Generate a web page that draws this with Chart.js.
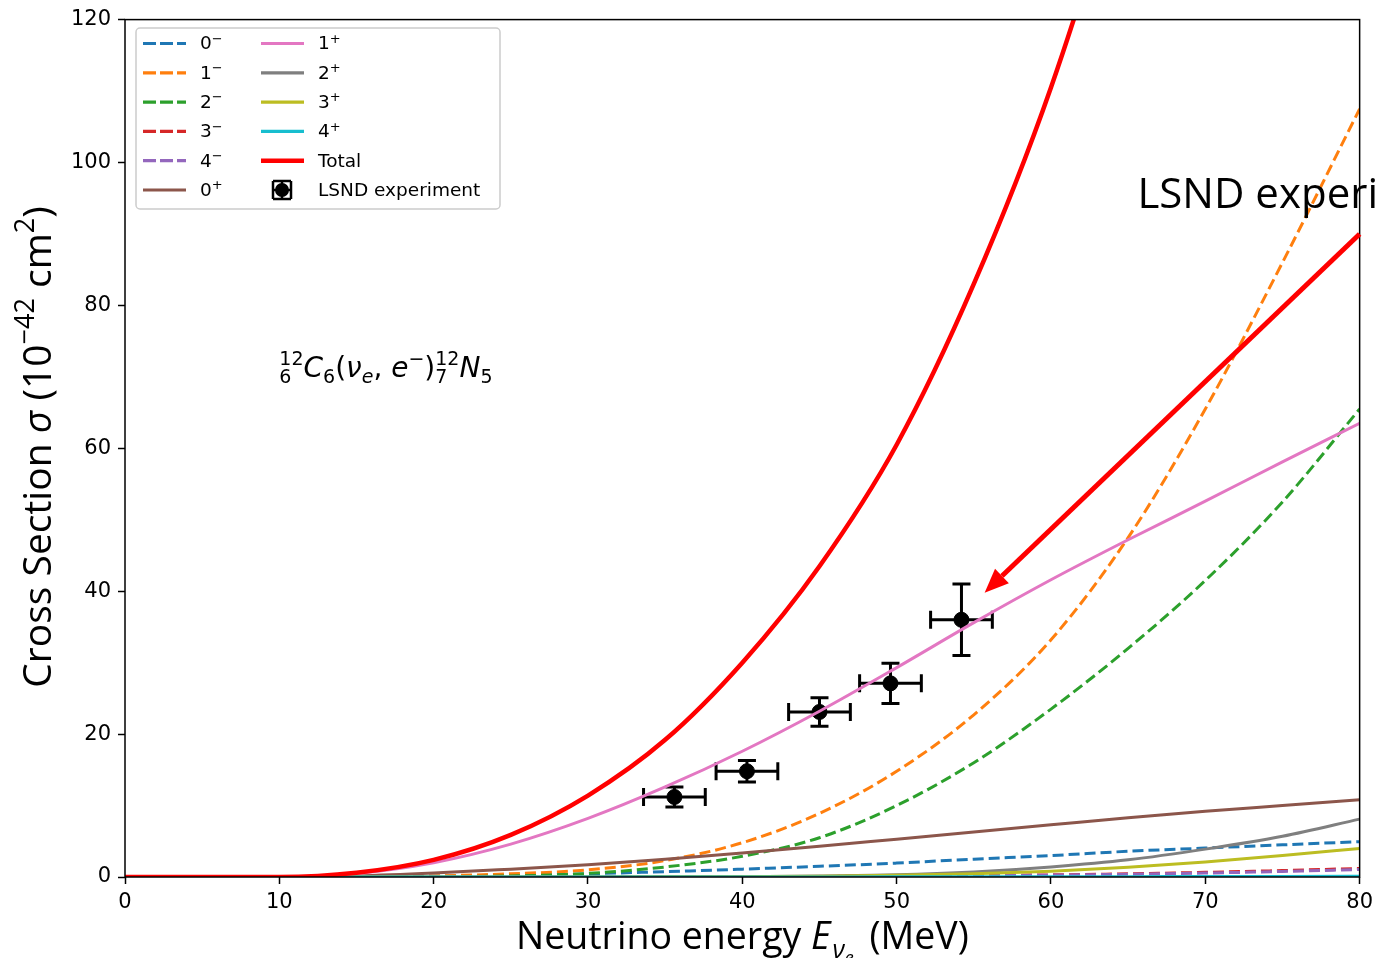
<!DOCTYPE html>
<html>
<head>
<meta charset="utf-8">
<script src="https://cdn.jsdelivr.net/npm/chart.js@4.4.0/dist/chart.umd.min.js"></script>
<style>
  html, body { margin: 0; padding: 0; background: #fff; }
</style>
</head>
<body>
<canvas id="xsec" width="1379" height="958"></canvas>
<script>
// energy grid (MeV) the curves were read on
const energy = [0, 5, 10, 15, 20, 25, 30, 35, 40, 45, 50, 55, 60, 65, 70, 75, 80];
const energyTotal = [0, 5, 10, 15, 20, 25, 30, 35, 40, 45, 50, 55, 60, 65, 70];

// cross sections, 10^-42 cm^2
const sig0m = [0, 0, 0, 0.02, 0.1, 0.2, 0.45, 0.75, 1.1, 1.5, 1.95, 2.5, 3.0, 3.6, 4.05, 4.5, 4.95];
const sig1m = [0, 0, 0, 0, 0.15, 0.45, 1.0, 2.3, 4.8, 8.9, 14.8, 22.7, 33.2, 47.5, 65.5, 86, 107.5];
const sig2m = [0, 0, 0, 0, 0.05, 0.15, 0.5, 1.4, 2.9, 5.5, 10, 16, 23.5, 32, 41.5, 52.5, 65.5];
const sig3m = [0, 0, 0, 0, 0, 0, 0, 0.02, 0.05, 0.08, 0.12, 0.2, 0.3, 0.45, 0.65, 0.9, 1.2];
const sig4m = [0, 0, 0, 0, 0, 0, 0, 0.02, 0.04, 0.07, 0.1, 0.17, 0.26, 0.38, 0.55, 0.78, 1.05];
const sig0p = [0, 0, 0, 0.15, 0.55, 1.1, 1.7, 2.5, 3.35, 4.3, 5.3, 6.3, 7.3, 8.3, 9.2, 10, 10.8];
const sig1p = [0, 0, 0, 0.5, 2, 4.6, 8.2, 12.6, 17.6, 23.2, 29.3, 35.6, 41.6, 47.2, 52.6, 58.1, 63.5];
const sig2p = [0, 0, 0, 0, 0, 0, 0.01, 0.02, 0.05, 0.15, 0.3, 0.7, 1.4, 2.4, 3.9, 5.7, 8.1];
const sig3p = [0, 0, 0, 0, 0, 0, 0.01, 0.02, 0.05, 0.1, 0.25, 0.45, 0.8, 1.35, 2.1, 3.0, 4.0];
const sig4p = [0, 0, 0, 0, 0, 0, 0, 0, 0.01, 0.01, 0.02, 0.03, 0.04, 0.05, 0.07, 0.08, 0.1];
const sigTotal = [0, 0, 0, 0.6, 2.4, 5.9, 11.4, 19.2, 30, 43.5, 60.5, 83, 110.5, 145, 185];

// LSND data points
const lsndE = [35.6, 40.3, 45, 49.6, 54.2];
const lsndSigma = [11.2, 14.8, 23.1, 27.1, 36];
const lsndErrE = [2, 2, 2, 2, 2];
const lsndErrSigma = [1.4, 1.5, 2, 2.8, 5];

// axis ticks
const xTicks = [0, 10, 20, 30, 40, 50, 60, 70, 80];
const yTicks = [0, 20, 40, 60, 80, 100, 120];

// annotation arrow (data coords): tail -> head
const arrowFrom = [80, 90];
const arrowTo = [55.7, 39.8];
const noteAt = [65.6, 93.6];
const formulaAt = [10.0, 70.0];

const LEG_FONT = '18.5px "DejaVu Sans"';

const pts = (xs, ys) => xs.map((x, i) => ({ x: x, y: ys[i] }));

const series = [
  { label: '0', sup: '\u2212', data: sig0m, color: '#1f77b4', dash: true },
  { label: '1', sup: '\u2212', data: sig1m, color: '#ff7f0e', dash: true },
  { label: '2', sup: '\u2212', data: sig2m, color: '#2ca02c', dash: true },
  { label: '3', sup: '\u2212', data: sig3m, color: '#d62728', dash: true },
  { label: '4', sup: '\u2212', data: sig4m, color: '#9467bd', dash: true },
  { label: '0', sup: '+', data: sig0p, color: '#8c564b', dash: false },
  { label: '1', sup: '+', data: sig1p, color: '#e377c2', dash: false },
  { label: '2', sup: '+', data: sig2p, color: '#7f7f7f', dash: false },
  { label: '3', sup: '+', data: sig3p, color: '#bcbd22', dash: false },
  { label: '4', sup: '+', data: sig4p, color: '#17becf', dash: false }
];

const datasets = series.map((s, i) => ({
  label: s.label + s.sup,
  data: pts(energy, s.data),
  borderColor: s.color,
  borderWidth: 3,
  borderDash: s.dash ? [11, 5] : [],
  pointRadius: 0,
  cubicInterpolationMode: 'monotone',
  fill: false,
  order: 30 - i
}));
datasets.push({
  label: 'Total',
  data: pts(energyTotal, sigTotal),
  borderColor: '#ff0000',
  borderWidth: 4.5,
  pointRadius: 0,
  cubicInterpolationMode: 'monotone',
  fill: false,
  order: 5
});
datasets.push({
  type: 'scatter',
  label: 'LSND experiment',
  data: pts(lsndE, lsndSigma),
  backgroundColor: '#000',
  borderColor: '#000',
  pointRadius: 7.5,
  order: 100
});

// draw a run of text pieces, each {t, font, dy}
function textRuns(ctx, runs, x, y, align) {
  let w = 0;
  runs.forEach(r => { ctx.font = r.font; r.w = ctx.measureText(r.t).width + (r.gap || 0); w += r.w; });
  let cx = align === 'center' ? x - w / 2 : x;
  runs.forEach(r => {
    ctx.font = r.font;
    ctx.fillText(r.t, cx, y + (r.dy || 0));
    cx += r.w;
  });
  return w;
}

const decor = {
  id: 'decor',
  beforeDatasetsDraw(chart) {
    const ctx = chart.ctx, xs = chart.scales.x, ys = chart.scales.y;
    ctx.save();
    ctx.strokeStyle = '#000';
    ctx.lineWidth = 3;
    lsndE.forEach((e, i) => {
      const px = xs.getPixelForValue(e), py = ys.getPixelForValue(lsndSigma[i]);
      const x0 = xs.getPixelForValue(e - lsndErrE[i]), x1 = xs.getPixelForValue(e + lsndErrE[i]);
      const y0 = ys.getPixelForValue(lsndSigma[i] - lsndErrSigma[i]);
      const y1 = ys.getPixelForValue(lsndSigma[i] + lsndErrSigma[i]);
      const cap = 9;
      ctx.beginPath();
      ctx.moveTo(x0, py); ctx.lineTo(x1, py);
      ctx.moveTo(px, y0); ctx.lineTo(px, y1);
      ctx.moveTo(x0, py - cap); ctx.lineTo(x0, py + cap);
      ctx.moveTo(x1, py - cap); ctx.lineTo(x1, py + cap);
      ctx.moveTo(px - cap, y0); ctx.lineTo(px + cap, y0);
      ctx.moveTo(px - cap, y1); ctx.lineTo(px + cap, y1);
      ctx.stroke();
    });
    ctx.restore();
  },
  afterDatasetsDraw(chart) {
    const ctx = chart.ctx, a = chart.chartArea, xs = chart.scales.x, ys = chart.scales.y;
    ctx.save();
    // frame
    ctx.strokeStyle = '#000';
    ctx.lineWidth = 1.5;
    ctx.strokeRect(a.left, a.top, a.right - a.left, a.bottom - a.top);

    // arrow
    const tx = xs.getPixelForValue(arrowFrom[0]), ty = ys.getPixelForValue(arrowFrom[1]);
    const hx = xs.getPixelForValue(arrowTo[0]), hy = ys.getPixelForValue(arrowTo[1]);
    const ang = Math.atan2(hy - ty, hx - tx);
    const hl = 24, hw = 10;
    const bx = hx - hl * Math.cos(ang), by = hy - hl * Math.sin(ang);
    ctx.strokeStyle = '#ff0000';
    ctx.fillStyle = '#ff0000';
    ctx.lineWidth = 5;
    ctx.beginPath(); ctx.moveTo(tx, ty); ctx.lineTo(bx, by); ctx.stroke();
    ctx.beginPath();
    ctx.moveTo(hx, hy);
    ctx.lineTo(bx + hw * Math.sin(ang), by - hw * Math.cos(ang));
    ctx.lineTo(bx - hw * Math.sin(ang), by + hw * Math.cos(ang));
    ctx.closePath(); ctx.fill();

    // LSND note
    ctx.fillStyle = '#000';
    ctx.textBaseline = 'alphabetic';
    ctx.font = '42px "Open Sans"';
    ctx.fillText('LSND experiment', xs.getPixelForValue(noteAt[0]), ys.getPixelForValue(noteAt[1]));

    // reaction formula
    const fx = xs.getPixelForValue(formulaAt[0]), fy = ys.getPixelForValue(formulaAt[1]);
    const big = '28px "DejaVu Sans"', bigI = 'oblique 28px "DejaVu Sans"';
    const sm = '19px "DejaVu Sans"', smI = 'oblique 19px "DejaVu Sans"';
    let cx = fx;
    const stack = (sup, sub) => {
      ctx.font = sm;
      const w = Math.max(ctx.measureText(sup).width, ctx.measureText(sub).width);
      ctx.fillText(sup, cx, fy - 12);
      ctx.fillText(sub, cx, fy + 6);
      cx += w;
    };
    stack('12', '6');
    cx += textRuns(ctx, [
      { t: 'C', font: bigI }, { t: '6', font: sm, dy: 6 },
      { t: '(', font: big }, { t: '\u03bd', font: bigI }, { t: 'e', font: smI, dy: 6 },
      { t: ', ', font: big }, { t: 'e', font: bigI }, { t: '\u2212', font: sm, dy: -12 },
      { t: ')', font: big }
    ], cx, fy, 'left');
    stack('12', '7');
    textRuns(ctx, [{ t: 'N', font: bigI }, { t: '5', font: sm, dy: 6 }], cx, fy, 'left');
    ctx.restore();
  },
  afterDraw(chart) {
    const ctx = chart.ctx, a = chart.chartArea;
    ctx.save();
    ctx.fillStyle = '#000';
    ctx.textBaseline = 'alphabetic';

    // axis titles
    const lab = '37.5px "Open Sans"', labI = 'italic 37.5px "Open Sans"';
    const labS = '26px "Open Sans"', labSI = 'italic 25px "Open Sans"';
    textRuns(ctx, [
      { t: 'Neutrino energy ', font: lab },
      { t: 'E', font: labI, gap: 2 },
      { t: '\u03bd', font: labSI, dy: 9 },
      { t: 'e', font: 'italic 18px "Open Sans"', dy: 15, gap: 6 },
      { t: ' (MeV)', font: lab }
    ], (a.left + a.right) / 2, 949, 'center');

    const ylab = '39px "Open Sans"', ylabI = 'italic 39px "Open Sans"', ylabS = '27px "Open Sans"';
    ctx.save();
    ctx.translate(51, 447);
    ctx.rotate(-Math.PI / 2);
    textRuns(ctx, [
      { t: 'Cross Section ', font: ylab },
      { t: '\u03c3', font: ylabI },
      { t: ' (10', font: ylab },
      { t: '\u221242', font: ylabS, dy: -17 },
      { t: ' cm', font: ylab },
      { t: '2', font: ylabS, dy: -17 },
      { t: ')', font: ylab }
    ], 0, 0, 'center');
    ctx.restore();

    // legend
    const box = { x: 136, y: 28, w: 364, h: 181 };
    ctx.beginPath();
    ctx.roundRect(box.x, box.y, box.w, box.h, 4);
    ctx.fillStyle = 'rgba(255,255,255,0.85)';
    ctx.fill();
    ctx.strokeStyle = '#cccccc';
    ctx.lineWidth = 1.5;
    ctx.stroke();

    const rowY = i => 43.5 + i * 29.3;
    const entries = series.concat([{ label: 'Total', sup: '', color: '#ff0000', dash: false, lw: 4.5 }]);
    entries.forEach((s, i) => {
      const col = i < 6 ? 0 : 1;
      const row = i < 6 ? i : i - 6;
      const lx = col === 0 ? 143 : 261, tx = col === 0 ? 200 : 318;
      const y = rowY(row);
      ctx.strokeStyle = s.color;
      ctx.lineWidth = s.lw || 3.2;
      ctx.setLineDash(s.dash ? [13, 4] : []);
      ctx.beginPath(); ctx.moveTo(lx, y); ctx.lineTo(lx + 43, y); ctx.stroke();
      ctx.setLineDash([]);
      ctx.fillStyle = '#000';
      ctx.textBaseline = 'middle';
      textRuns(ctx, [{ t: s.label, font: LEG_FONT }, { t: s.sup, font: '13px "DejaVu Sans"', dy: -5 }], tx, y + 1, 'left');
    });
    // LSND legend marker
    const my = rowY(5), mx = 282;
    ctx.strokeStyle = '#000';
    ctx.lineWidth = 2.5;
    ctx.beginPath();
    ctx.moveTo(mx - 9, my); ctx.lineTo(mx + 9, my);
    ctx.moveTo(mx, my - 9); ctx.lineTo(mx, my + 9);
    ctx.moveTo(mx - 9, my - 9); ctx.lineTo(mx - 9, my + 9);
    ctx.moveTo(mx + 9, my - 9); ctx.lineTo(mx + 9, my + 9);
    ctx.moveTo(mx - 9, my - 9); ctx.lineTo(mx + 9, my - 9);
    ctx.moveTo(mx - 9, my + 9); ctx.lineTo(mx + 9, my + 9);
    ctx.stroke();
    ctx.fillStyle = '#000';
    ctx.beginPath(); ctx.arc(mx, my, 7, 0, Math.PI * 2); ctx.fill();
    textRuns(ctx, [{ t: 'LSND experiment', font: LEG_FONT }], 318, my + 1, 'left');
    ctx.restore();
  }
};

new Chart(document.getElementById('xsec').getContext('2d'), {
  type: 'line',
  data: { datasets: datasets },
  options: {
    responsive: false,
    animation: false,
    layout: { padding: { top: 18, right: 19, left: 0, bottom: 0 } },
    plugins: { legend: { display: false }, tooltip: { enabled: false } },
    scales: {
      x: {
        type: 'linear', min: 0, max: 80,
        afterBuildTicks: s => { s.ticks = xTicks.map(v => ({ value: v })); },
        afterFit: s => { s.height = 81; },
        ticks: { font: { family: 'DejaVu Sans', size: 21 }, color: '#000', padding: 6, maxRotation: 0 },
        grid: { drawOnChartArea: false, drawTicks: true, tickLength: 7, tickColor: '#000', tickWidth: 1.5 },
        border: { display: false }
      },
      y: {
        type: 'linear', min: 0, max: 120,
        afterBuildTicks: s => { s.ticks = yTicks.map(v => ({ value: v })); },
        afterFit: s => { s.width = 125; },
        ticks: { font: { family: 'DejaVu Sans', size: 21 }, color: '#000', padding: 7 },
        grid: { drawOnChartArea: false, drawTicks: true, tickLength: 7, tickColor: '#000', tickWidth: 1.5 },
        border: { display: false }
      }
    }
  },
  plugins: [decor]
});
</script>
</body>
</html>
